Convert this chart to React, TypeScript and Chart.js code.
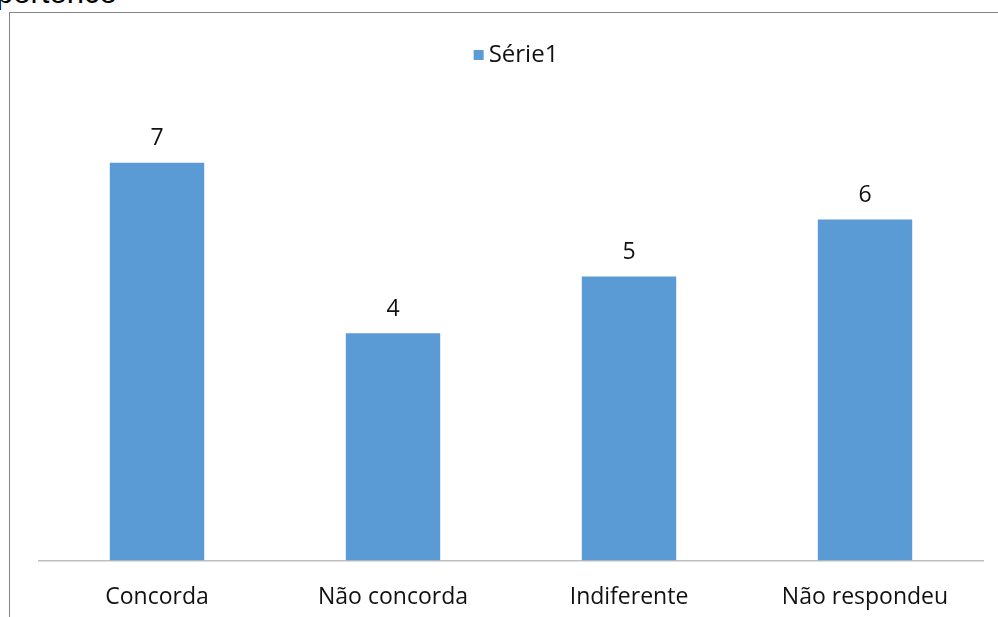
import React, { useEffect, useRef } from "react";
import { Chart, registerables } from "chart.js";

Chart.register(...registerables);

const categories = ["Concorda", "Não concorda", "Indiferente", "Não respondeu"];
const seriesName = "Série1";
const seriesValues = [7, 4, 5, 6];

const BAR_COLOR = "#5B9BD5";
const FONT = "'Open Sans', Lato, sans-serif";
const FONT_SIZE = 23;

// Draws the value above each bar and the single-entry legend at the top.
const labelsPlugin = {
  id: "valueLabels",
  afterDatasetsDraw(chart: any) {
    const { ctx } = chart;
    const meta = chart.getDatasetMeta(0);
    const ds = chart.data.datasets[0];
    ctx.save();
    ctx.font = `${FONT_SIZE}px ${FONT}`;
    ctx.fillStyle = "#111";
    ctx.textAlign = "center";
    ctx.textBaseline = "middle";
    meta.data.forEach((bar: any, i: number) => {
      ctx.fillText(String(ds.data[i]), bar.x, bar.y - 24);
    });

    // legend
    ctx.font = `24px ${FONT}`;
    const label = ds.label as string;
    const tw = ctx.measureText(label).width;
    const box = 10;
    const gap = 5;
    const total = box + gap + tw;
    const cx = 506;
    const cy = 42;
    const x0 = cx - total / 2;
    ctx.fillStyle = ds.backgroundColor;
    ctx.fillRect(x0, cy - box / 2, box, box);
    ctx.fillStyle = "#111";
    ctx.textAlign = "left";
    ctx.fillText(label, x0 + box + gap, cy);
    ctx.restore();
  },
};

export default function App() {
  const canvasRef = useRef<HTMLCanvasElement | null>(null);

  useEffect(() => {
    document.body.style.margin = "0";
    const canvas = canvasRef.current;
    if (!canvas) return;
    const chart = new Chart(canvas, {
      type: "bar",
      data: {
        labels: categories,
        datasets: [
          {
            label: seriesName,
            data: seriesValues,
            backgroundColor: BAR_COLOR,
            borderWidth: 0,
            categoryPercentage: 1,
            barPercentage: 0.4,
          },
        ],
      },
      options: {
        animation: false,
        responsive: false,
        maintainAspectRatio: false,
        devicePixelRatio: 1,
        layout: { padding: { left: 29, right: 15, top: 93, bottom: 0 } },
        plugins: {
          legend: { display: false },
          tooltip: { enabled: false },
          title: { display: false },
        },
        scales: {
          x: {
            grid: { display: false },
            border: { display: true, color: "#BFBFBF", width: 1.5 },
            ticks: {
              color: "#111",
              font: { family: FONT, size: FONT_SIZE },
              padding: 15,
              maxRotation: 0,
              autoSkip: false,
            },
          },
          y: {
            display: false,
            min: 0,
            max: 8,
          },
        },
      },
      plugins: [labelsPlugin],
    });
    return () => chart.destroy();
  }, []);

  return (
    <div
      style={{
        position: "relative",
        width: 998,
        height: 617,
        overflow: "hidden",
        background: "#fff",
      }}
    >
      <span
        style={{
          position: "absolute",
          left: -4,
          top: -23,
          fontFamily: "'Liberation Sans', Arial, sans-serif",
          fontSize: 31,
          lineHeight: "31px",
          color: "#000",
          whiteSpace: "nowrap",
        }}
      >
        pertence
      </span>
      <div
        style={{
          position: "absolute",
          left: 9,
          top: 12,
          width: 1000,
          height: 620,
          borderLeft: "1px solid #858585",
          borderTop: "1px solid #858585",
        }}
      />
      <canvas
        ref={canvasRef}
        width={988}
        height={613}
        style={{ position: "absolute", left: 10, top: 13, width: 988, height: 613 }}
      />
    </div>
  );
}
